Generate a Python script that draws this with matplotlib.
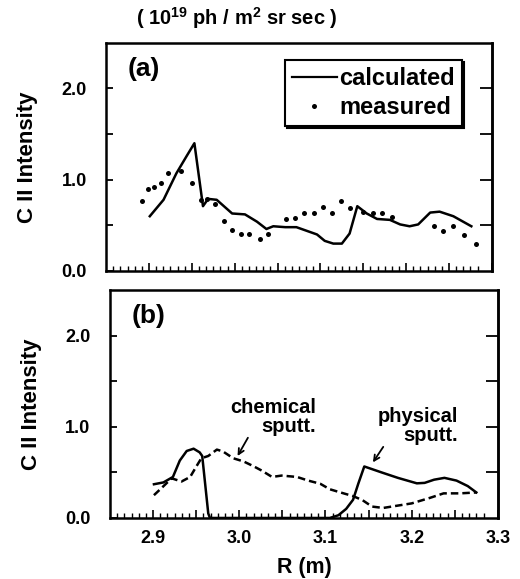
import numpy as np
import matplotlib
matplotlib.use("Agg")
import matplotlib.pyplot as plt
from matplotlib.lines import Line2D
from matplotlib.ticker import FixedLocator, FuncFormatter

plt.rcParams['font.family'] = ['Liberation Sans', 'DejaVu Sans']
plt.rcParams['font.weight'] = 'bold'
plt.rcParams['axes.labelweight'] = 'bold'
plt.rcParams['mathtext.fontset'] = 'custom'
plt.rcParams['mathtext.rm'] = 'Liberation Sans:bold'
plt.rcParams['mathtext.it'] = 'Liberation Sans:bold'
plt.rcParams['mathtext.bf'] = 'Liberation Sans:bold'

# ---- data: panel (a) ----
a_calc_R = [2.901, 2.917, 2.932, 2.944, 2.953, 2.963, 2.969, 2.979, 2.997, 3.012,
            3.026, 3.037, 3.045, 3.059, 3.072, 3.084, 3.096, 3.105, 3.115, 3.125,
            3.134, 3.143, 3.154, 3.166, 3.181, 3.193, 3.204, 3.214, 3.228, 3.239,
            3.255, 3.276]
a_calc_I = [0.60, 0.78, 1.07, 1.26, 1.40, 0.71, 0.79, 0.78, 0.63, 0.62,
            0.54, 0.46, 0.49, 0.48, 0.48, 0.44, 0.40, 0.33, 0.30, 0.30,
            0.41, 0.71, 0.63, 0.57, 0.56, 0.51, 0.49, 0.51, 0.64, 0.65,
            0.60, 0.49]
a_meas_R = [2.892, 2.899, 2.906, 2.914, 2.922, 2.937, 2.950, 2.961, 2.968, 2.977,
            2.987, 2.997, 3.007, 3.017, 3.029, 3.039, 3.060, 3.070, 3.081, 3.092,
            3.103, 3.114, 3.124, 3.135, 3.150, 3.161, 3.172, 3.184, 3.232, 3.243,
            3.255, 3.268, 3.281]
a_meas_I = [0.77, 0.90, 0.92, 0.96, 1.07, 1.10, 0.96, 0.78, 0.79, 0.73,
            0.55, 0.45, 0.41, 0.40, 0.35, 0.41, 0.57, 0.58, 0.64, 0.64,
            0.70, 0.64, 0.77, 0.69, 0.65, 0.64, 0.64, 0.59, 0.49, 0.44,
            0.49, 0.39, 0.30]

# ---- data: panel (b) ----
b_phys_R = [2.901, 2.912, 2.923, 2.931, 2.939, 2.947, 2.954, 2.957, 2.964, 2.966,
            3.000, 3.050, 3.105, 3.115, 3.124, 3.132, 3.138, 3.145, 3.165, 3.184,
            3.206, 3.215, 3.226, 3.238, 3.252, 3.265, 3.275]
b_phys_I = [0.37, 0.39, 0.45, 0.63, 0.735, 0.76, 0.72, 0.68, 0.05, 0.0,
            0.0, 0.0, 0.0, 0.03, 0.10, 0.20, 0.375, 0.565, 0.50, 0.44,
            0.38, 0.385, 0.42, 0.44, 0.41, 0.35, 0.28]
b_chem_R = [2.901, 2.910, 2.9215, 2.933, 2.943, 2.9505, 2.956, 2.964, 2.974, 2.981,
            2.993, 3.005, 3.016, 3.026, 3.038, 3.049, 3.067, 3.080, 3.094, 3.105,
            3.121, 3.132, 3.143, 3.154, 3.167, 3.180, 3.200, 3.221, 3.237, 3.256,
            3.275]
b_chem_I = [0.25, 0.33, 0.435, 0.40, 0.45, 0.57, 0.655, 0.68, 0.75, 0.73,
            0.655, 0.62, 0.57, 0.52, 0.45, 0.465, 0.45, 0.41, 0.375, 0.315,
            0.27, 0.24, 0.195, 0.125, 0.11, 0.13, 0.16, 0.22, 0.27, 0.27,
            0.28]

chord_ticks = np.arange(2.9 - 5 / 120, 3.29, 1 / 120)
major_x = [2.9, 2.95, 3.0, 3.05, 3.1, 3.15, 3.2, 3.25, 3.3]

fig = plt.figure(figsize=(5.2, 5.79), dpi=100)
ax_a = fig.add_axes([0.204, 0.532, 0.742, 0.394])
ax_b = fig.add_axes([0.2115, 0.1054, 0.746, 0.3936])

lw_sp = 1.8
for ax in (ax_a, ax_b):
    ax.set_xlim(2.85, 3.3)
    ax.set_ylim(0, 2.5)
    for s in ax.spines.values():
        s.set_linewidth(lw_sp)
    ax.xaxis.set_major_locator(FixedLocator(major_x))
    ax.xaxis.set_minor_locator(FixedLocator(list(chord_ticks)))
    ax.yaxis.set_major_locator(FixedLocator([0.0, 1.0, 2.0]))
    ax.yaxis.set_minor_locator(FixedLocator([0.5, 1.5]))
    ax.yaxis.set_major_formatter(FuncFormatter(lambda v, p: f"{v:.1f}"))
    ax.tick_params(axis='x', which='major', direction='in', length=6, width=1.2)
    ax.tick_params(axis='x', which='minor', direction='in', length=3.5, width=1.0)
    ax.tick_params(axis='y', which='both', direction='in', length=5, width=1.3,
                   labelsize=13, pad=14)
    sec = ax.secondary_yaxis('right')
    sec.yaxis.set_major_locator(FixedLocator([0.5, 1.0, 1.5, 2.0]))
    sec.tick_params(direction='in', length=9, width=1.3, labelright=False)
    sec.spines['right'].set_linewidth(lw_sp)
    ax.set_ylabel('C II Intensity', fontsize=16, labelpad=17)

ax_a.tick_params(axis='x', labelbottom=False)
ax_b.xaxis.set_major_formatter(FuncFormatter(
    lambda v, p: f"{v:.1f}" if abs(v * 10 - round(v * 10)) < 1e-6 else ""))
ax_b.tick_params(axis='x', which='major', labelsize=13, pad=9)
ax_b.set_xlabel('R (m)', fontsize=15.5, labelpad=7)

# panel (a)
ax_a.plot(a_calc_R, a_calc_I, color='black', lw=1.8)
ax_a.plot(a_meas_R, a_meas_I, 'o', color='black', ms=3.6, mec='none')
ax_a.text(0.055, 0.94, '(a)', transform=ax_a.transAxes, fontsize=19,
          ha='left', va='top')
handles = [Line2D([], [], color='black', lw=1.6),
           Line2D([], [], marker='o', ls='none', color='black', ms=3.6, mec='none')]
leg = ax_a.legend(handles, ['calculated', 'measured'], loc='upper right',
                  bbox_to_anchor=(0.922, 0.925), fontsize=17, frameon=True,
                  fancybox=False, edgecolor='black', handlelength=1.9,
                  handletextpad=0.1, borderpad=0.3, labelspacing=0.25,
                  borderaxespad=0.0,
                  shadow={'color': 'black', 'alpha': 1.0, 'ox': 1.5, 'oy': -1.5})
leg.get_frame().set_linewidth(1.5)

# panel (b)
ax_b.plot(b_phys_R, b_phys_I, color='black', lw=1.8)
ax_b.plot(b_chem_R, b_chem_I, color='black', lw=1.8, ls=(0, (3, 1.6)))
ax_b.text(0.055, 0.94, '(b)', transform=ax_b.transAxes, fontsize=19,
          ha='left', va='top')

arrow_kw = dict(arrowstyle='->', lw=1.3, color='black', shrinkA=0, shrinkB=0)
ax_b.text(3.089, 0.90, 'chemical\nsputt.', fontsize=14.5, ha='right', va='bottom',
          linespacing=1.0)
ax_b.annotate('', xy=(2.998, 0.68), xytext=(3.010, 0.88), arrowprops=arrow_kw)
ax_b.text(3.254, 0.80, 'physical\nsputt.', fontsize=14.5, ha='right', va='bottom',
          linespacing=1.0)
ax_b.annotate('', xy=(3.155, 0.61), xytext=(3.167, 0.78), arrowprops=arrow_kw)

fig.text(0.455, 0.968, r'( 10$^{19}$ ph / m$^{2}$ sr sec )', fontsize=14.5,
         ha='center', va='center')

fig.savefig('out.png', dpi=100)
